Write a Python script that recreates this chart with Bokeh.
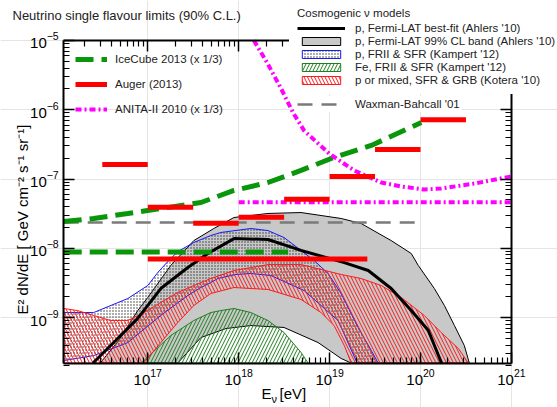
from bokeh.plotting import figure
from bokeh.models import (LogAxis, FixedTicker, Legend, LegendItem, Label,
                          CustomJSTickFormatter, Range1d)
from bokeh.embed import file_html
from bokeh.resources import INLINE

# ---------------- data (E in eV ; E^2 dN/dE in GeV cm^-2 s^-1 sr^-1) ----------------
# Auger (2013) differential limits, half-decade bins
auger_lo = [3.16e16, 1e17, 3.16e17, 1e18, 3.16e18, 1e19, 3.16e19, 1e20]
auger_hi = [1e17, 3.16e17, 1e18, 3.16e18, 1e19, 3.16e19, 1e20, 3.16e20]
auger_F = [1.62e-7, 3.9e-8, 2.3e-8, 2.8e-8, 5.1e-8, 1.09e-7, 2.67e-7, 7.2e-7]
auger_int_E = [1e17, 2.6e19]
auger_int_F = [7.0e-9, 7.0e-9]

# IceCube 2013 (x 1/3)
ic_E = [1.19e16, 2.54e16, 6.03e16, 1.39e17, 3.84e17, 8.87e17, 2.10e18, 4.85e18, 1.04e19, 2.87e19, 1.02e20]
ic_F = [2.43e-8, 2.69e-8, 3.18e-8, 3.75e-8, 4.58e-8, 6.83e-8, 8.9e-8, 1.33e-7, 1.98e-7, 3.05e-7, 6.55e-7]
ic_int_E = [1.19e16, 3.5e18]
ic_int_F = [8.8e-9, 8.8e-9]

# ANITA-II 2010 (x 1/3)
an_E = [1.47e18, 2.05e18, 2.92e18, 3.96e18, 5.24e18, 9.88e18, 1.86e19, 3.69e19, 6.13e19, 1.10e20, 1.69e20, 3.91e20, 1.0e21]
an_F = [1.0e-5, 4.81e-6, 2.03e-6, 9.1e-7, 5.0e-7, 2.33e-7, 1.33e-7, 8.9e-8, 7.8e-8, 7.05e-8, 7.3e-8, 8.6e-8, 1.09e-7]
an_int_E = [1e18, 1e21]
an_int_F = [4.6e-8, 4.6e-8]

# Waxman-Bahcall '01
wb_E = [1.19e16, 1e20]
wb_F = [2.35e-8, 2.35e-8]

# p, Fermi-LAT best fit (Ahlers '10)
bf_E = [2.5e16, 4.44e16, 7.76e16, 1.39e17, 2.76e17, 4.58e17, 8.87e17, 2.10e18, 4.85e18, 1.45e19, 2.66e19, 4.76e19, 7.91e19, 1.22e20, 1.70e20]
bf_F = [2.2e-10, 4.66e-10, 9.7e-10, 2.62e-9, 5.27e-9, 8.4e-9, 1.38e-8, 1.34e-8, 9.3e-9, 6.2e-9, 4.77e-9, 2.62e-9, 1.26e-9, 6.5e-10, 2.2e-10]

# p, Fermi-LAT 99% CL band (Ahlers '10): upper edge then lower edge
fermi_up_E = [3.0e16, 4.79e16, 7.76e16, 1.0e17, 1.79e17, 3.21e17, 5.33e17, 8.87e17, 2.10e18, 4.85e18, 1.34e19, 2.22e19, 4.76e19, 7.91e19, 9.45e19, 1.42e20, 1.83e20, 2.36e20, 3.03e20, 3.44e20]
fermi_up_F = [2.2e-10, 4.66e-10, 1.26e-9, 1.95e-9, 5.64e-9, 1.29e-8, 1.93e-8, 2.78e-8, 3.18e-8, 3.28e-8, 2.69e-8, 2.28e-8, 1.29e-8, 8.4e-9, 5.64e-9, 2.62e-9, 1.49e-9, 7.66e-10, 3.94e-10, 2.2e-10]
fermi_lo_E = [1.73e19, 1.34e19, 7.47e18, 3.15e18, 1.36e18, 7.24e17, 3.84e17, 2.14e17]
fermi_lo_F = [2.2e-10, 2.56e-10, 4.35e-10, 7.18e-10, 7.66e-10, 6.93e-10, 5.14e-10, 2.2e-10]

# p, FRII & SFR (Kampert '12)
kp_up_E = [1.19e16, 2.54e16, 6.03e16, 1.0e17, 1.29e17, 1.66e17, 2.14e17, 3.21e17, 4.94e17, 6.37e17, 1.36e18, 2.10e18, 3.15e18, 4.85e18, 6.75e18, 9.62e18, 1.34e19, 2.06e19, 2.87e19, 3.42e19]
kp_up_F = [1.18e-9, 1.18e-9, 1.88e-9, 2.90e-9, 4.47e-9, 6.44e-9, 8.97e-9, 1.21e-8, 1.53e-8, 1.69e-8, 1.93e-8, 1.80e-8, 1.43e-8, 9.3e-9, 6.66e-9, 4.32e-9, 2.22e-9, 7.18e-10, 3.34e-10, 2.2e-10]
kp_lo_E = [2.01e19, 1.24e19, 5.24e18, 2.26e18, 1.36e18, 9.33e17, 5.90e17, 4.94e17, 3.84e17, 2.76e17, 1.39e17, 6.03e16, 2.54e16, 1.19e16]
kp_lo_F = [2.2e-10, 9.05e-10, 2.45e-9, 4.04e-9, 4.32e-9, 4.18e-9, 3.66e-9, 3.2e-9, 2.71e-9, 2.08e-9, 1.07e-9, 4.35e-10, 2.82e-10, 2.39e-10]

# Fe, FRII & SFR (Kampert '12)
fe_E = [8.5e16, 1.79e17, 3.21e17, 4.94e17, 6.37e17, 8.87e17, 1.36e18, 2.10e18, 3.15e18, 4.85e18, 5.80e18]
fe_F = [2.2e-10, 5.49e-10, 9.05e-10, 1.18e-9, 1.26e-9, 1.35e-9, 1.18e-9, 9.05e-10, 6.07e-10, 3.13e-10, 2.2e-10]

# p or mixed, SFR & GRB (Kotera '10)
ko_up_E = [1.19e16, 1.69e16, 2.54e16, 3.91e16, 6.03e16, 9.04e16, 1.39e17, 2.14e17, 3.21e17, 4.94e17, 8.87e17, 2.10e18, 4.85e18, 1.34e19, 2.22e19, 3.69e19, 6.13e19, 1.10e20, 1.69e20, 2.61e20, 3.36e20]
ko_up_F = [1.35e-9, 1.26e-9, 1.07e-9, 9.05e-10, 9.05e-10, 1.18e-9, 1.65e-9, 2.30e-9, 2.90e-9, 3.66e-9, 4.77e-9, 5.82e-9, 5.82e-9, 4.18e-9, 3.66e-9, 2.90e-9, 1.95e-9, 1.07e-9, 6.07e-10, 3.56e-10, 2.2e-10]
ko_lo_E = [1.73e19, 1.45e19, 1.12e19, 8.05e18, 4.85e18, 2.10e18, 8.87e17, 4.94e17, 3.21e17, 2.14e17, 1.39e17, 9.04e16, 1.19e16]
ko_lo_F = [2.2e-10, 3.94e-10, 7.66e-10, 1.18e-9, 1.82e-9, 2.54e-9, 2.71e-9, 2.22e-9, 1.49e-9, 8.47e-10, 4.35e-10, 2.2e-10, 2.2e-10]

x_major = [1e17, 1e18, 1e19, 1e20, 1e21]
y_major = [1e-9, 1e-8, 1e-7, 1e-6, 1e-5]
x_bounds = (1.19e16, 1e21)
y_bounds = (2.2e-10, 1e-5)

TITLE = "Neutrino single flavour limits (90% C.L.)"
YLABEL = "E\u00b2 dN/dE  [ GeV cm\u207b\u00b2 s\u207b\u00b9 sr\u207b\u00b9]"

# ---------------- figure ----------------
# The frame covers the whole canvas; the visible plot box is drawn by four axes at fixed
# locations, so that legends and texts may sit outside that box without being clipped.
W, H = 557, 407
FONT = "Liberation Sans"
p = figure(width=W, height=H, x_axis_type="log", y_axis_type="log",
           x_axis_location=None, y_axis_location=None,
           x_range=Range1d(2.40e15, 3.21e21), y_range=Range1d(5.02e-11, 3.78e-5),
           output_backend="svg", toolbar_location=None, title=None,
           min_border_left=0, min_border_right=0, min_border_top=0, min_border_bottom=0)
p.background_fill_color = "white"
p.border_fill_color = "white"
p.outline_line_color = None

xminor = [k * 10.0 ** n for n in range(16, 21) for k in range(2, 10)]
yminor = [k * 10.0 ** n for n in range(-10, -5) for k in range(2, 10)]
xt = FixedTicker(ticks=x_major, minor_ticks=xminor)
yt = FixedTicker(ticks=y_major, minor_ticks=yminor)

def make_axis(ticker, bounds, loc, labels=True):
    ax = LogAxis(ticker=ticker, bounds=bounds, fixed_location=loc)
    ax.axis_line_width = 2
    ax.major_tick_in = 11
    ax.major_tick_out = 0
    ax.minor_tick_in = 6
    ax.minor_tick_out = 0
    ax.major_tick_line_width = 1.5
    ax.minor_tick_line_width = 1.2
    ax.major_label_text_font = FONT
    ax.major_label_text_font_size = "15px"
    ax.major_label_text_color = "black"
    if not labels:
        ax.formatter = CustomJSTickFormatter(code="return ''")
    return ax

ax_b = make_axis(xt, x_bounds, y_bounds[0])
ax_b.major_label_standoff = 6
ax_l = make_axis(yt, y_bounds, x_bounds[0])
ax_l.major_label_standoff = 5
ax_t = make_axis(xt, x_bounds, y_bounds[1], False)
ax_r = make_axis(yt, y_bounds, x_bounds[1], False)
p.add_layout(ax_b, "below")
p.add_layout(ax_l, "left")
p.add_layout(ax_t, "above")
p.add_layout(ax_r, "right")

# ---------------- bands ----------------
r_fermi = p.patch(fermi_up_E + fermi_lo_E, fermi_up_F + fermi_lo_F,
                  fill_color="#c8c8c8", line_color="black", line_width=1)
r_kp = p.patch(kp_up_E + kp_lo_E, kp_up_F + kp_lo_F,
               fill_color="white", fill_alpha=0, line_color="#1a1aff", line_width=1,
               hatch_pattern=".", hatch_color="#333333", hatch_scale=3, hatch_weight=0.6)
r_fe = p.patch(fe_E, fe_F, fill_color="white", fill_alpha=0, line_color="#1f7f1f", line_width=1,
               hatch_pattern="/", hatch_color="#1f7f1f", hatch_scale=7, hatch_weight=1)
r_ko = p.patch(ko_up_E + ko_lo_E, ko_up_F + ko_lo_F,
               fill_color="white", fill_alpha=0, line_color="#ff1a1a", line_width=1,
               hatch_pattern="\\", hatch_color="#ff1a1a", hatch_scale=7, hatch_weight=1)
r_bf = p.line(bf_E, bf_F, line_color="black", line_width=3)

# ---------------- limits ----------------
r_wb = p.line(wb_E, wb_F, line_color="#7a7a7a", line_width=2.5, line_dash="15 9")
r_ic1 = p.line(ic_E, ic_F, line_color="#0a960a", line_width=5, line_dash="18 8")
r_ic2 = p.line(ic_int_E, ic_int_F, line_color="#0a960a", line_width=5, line_dash="18 8")
r_an1 = p.line(an_E, an_F, line_color="#ff00ff", line_width=4, line_dash="6 3 2 3")
r_an2 = p.line(an_int_E, an_int_F, line_color="#ff00ff", line_width=4, line_dash="6 3 2 3")
r_au1 = p.segment(x0=auger_lo, x1=auger_hi, y0=auger_F, y1=auger_F, line_color="#ff0000", line_width=5)
r_au2 = p.line(auger_int_E, auger_int_F, line_color="#ff0000", line_width=5)

# ---------------- legends (locations: bottom-left corner, px from canvas bottom-left) ----------------
LCOL = "#222222"
leg_l = Legend(items=[LegendItem(label="IceCube 2013 (x 1/3)", renderers=[r_ic2]),
                      LegendItem(label="Auger (2013)", renderers=[r_au2]),
                      LegendItem(label="ANITA-II 2010 (x 1/3)", renderers=[r_an2])],
               location=(75, 292), glyph_width=32, glyph_height=12, label_height=12,
               spacing=13, label_standoff=8, padding=0, margin=0,
               background_fill_alpha=0, border_line_alpha=0,
               label_text_font=FONT, label_text_font_size="11.5px", label_text_color=LCOL)
p.add_layout(leg_l)

leg_r = Legend(items=[LegendItem(label="p, Fermi-LAT best-fit (Ahlers '10)", renderers=[r_bf]),
                      LegendItem(label="p, Fermi-LAT 99% CL band (Ahlers '10)", renderers=[r_fermi]),
                      LegendItem(label="p, FRII & SFR (Kampert '12)", renderers=[r_kp]),
                      LegendItem(label="Fe, FRII & SFR (Kampert '12)", renderers=[r_fe]),
                      LegendItem(label="p or mixed, SFR & GRB (Kotera '10)", renderers=[r_ko])],
               title="Cosmogenic \u03bd models", title_text_font=FONT, title_text_font_size="11.5px",
               title_text_font_style="normal", title_text_color=LCOL, title_standoff=3,
               location=(289, 313), glyph_width=48, glyph_height=10, label_height=10,
               spacing=1, label_standoff=10, padding=8, margin=0,
               background_fill_color="white", background_fill_alpha=1, border_line_alpha=0,
               label_text_font=FONT, label_text_font_size="11.5px", label_text_color=LCOL)
p.add_layout(leg_r)

leg_wb = Legend(items=[LegendItem(label="Waxman-Bahcall '01", renderers=[r_wb])],
                location=(295, 295), glyph_width=48, glyph_height=10, label_height=10,
                label_standoff=10, padding=2, margin=0,
                background_fill_color="white", background_fill_alpha=1, border_line_alpha=0,
                label_text_font=FONT, label_text_font_size="11.5px", label_text_color=LCOL)
p.add_layout(leg_wb)

# ---------------- free texts (x from left, y measured from canvas top) ----------------
def lab(text, x, y, size, color="black", **kw):
    p.add_layout(Label(x=x, y=H - y, x_units="screen", y_units="screen", text=text,
                       text_font=FONT, text_font_size=size, text_color=color,
                       text_baseline="middle", **kw))

lab(TITLE, 12, 15, "13px", "#222222")
lab(YLABEL, 22, 217, "15px", angle=1.5708, text_align="center")
lab("E", 261, 393, "15px")
lab("\u03bd", 271, 398, "11px")
lab("[eV]", 279, 393, "15px")

open("out.html", "w").write(file_html(p, INLINE))
